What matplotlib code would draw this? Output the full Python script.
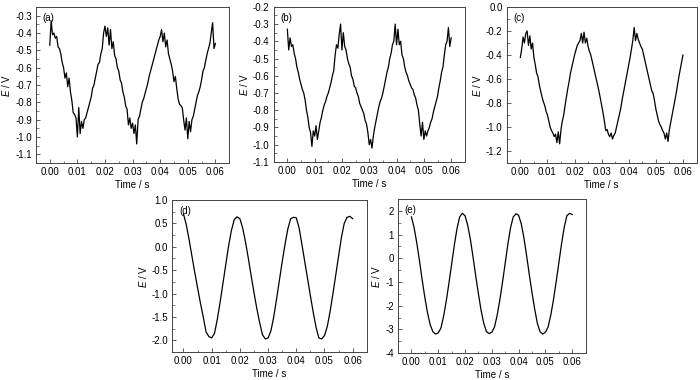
import matplotlib.pyplot as plt
import numpy as np
from matplotlib.ticker import MultipleLocator

plt.rcParams['font.family'] = ['Liberation Sans', 'DejaVu Sans']
plt.rcParams['mathtext.fontset'] = 'custom'
plt.rcParams['mathtext.it'] = 'Liberation Sans:italic'
plt.rcParams['mathtext.rm'] = 'Liberation Sans'
plt.rcParams['axes.unicode_minus'] = False

# time bases
t_fine = np.arange(121) * 0.0005   # panels a-c
t_coarse = np.arange(61) * 0.001   # panels d-e

# potential readings (V)
e_a = [-0.47, -0.33, -0.41, -0.40, -0.43, -0.42, -0.48, -0.49, -0.52, -0.57,
       -0.60, -0.66, -0.63, -0.71, -0.66, -0.74, -0.79, -0.86, -0.87, -0.89,
       -1.00, -0.83, -0.98, -0.91, -0.95, -0.90, -0.89, -0.86, -0.83, -0.80,
       -0.77, -0.72, -0.70, -0.66, -0.62, -0.58, -0.57, -0.52, -0.49, -0.40,
       -0.36, -0.42, -0.37, -0.47, -0.38, -0.49, -0.45, -0.53, -0.55, -0.60,
       -0.62, -0.67, -0.69, -0.74, -0.77, -0.82, -0.84, -0.93, -0.89, -0.95,
       -0.92, -0.98, -0.93, -1.04, -0.90, -0.88, -0.84, -0.80, -0.78, -0.75,
       -0.72, -0.69, -0.65, -0.62, -0.59, -0.56, -0.53, -0.50, -0.47, -0.44,
       -0.42, -0.38, -0.45, -0.40, -0.48, -0.44, -0.52, -0.55, -0.58, -0.62,
       -0.68, -0.65, -0.72, -0.78, -0.81, -0.82, -0.83, -0.90, -0.96, -0.89,
       -1.01, -0.91, -0.97, -0.90, -0.88, -0.84, -0.80, -0.76, -0.74, -0.71,
       -0.67, -0.62, -0.60, -0.56, -0.52, -0.49, -0.46, -0.40, -0.34, -0.49,
       -0.46]

e_b = [-0.33, -0.45, -0.38, -0.43, -0.42, -0.47, -0.50, -0.55, -0.58, -0.62,
       -0.65, -0.68, -0.70, -0.74, -0.80, -0.84, -0.90, -0.93, -1.01, -0.92,
       -0.95, -0.89, -0.97, -0.92, -0.87, -0.84, -0.80, -0.77, -0.75, -0.72,
       -0.70, -0.67, -0.64, -0.60, -0.57, -0.48, -0.42, -0.44, -0.36, -0.30,
       -0.45, -0.35, -0.43, -0.45, -0.50, -0.53, -0.55, -0.60, -0.62, -0.66,
       -0.67, -0.70, -0.72, -0.76, -0.78, -0.80, -0.82, -0.86, -0.88, -0.93,
       -1.00, -0.97, -1.02, -0.95, -0.90, -0.86, -0.82, -0.78, -0.75, -0.73,
       -0.70, -0.66, -0.62, -0.58, -0.55, -0.50, -0.47, -0.42, -0.40, -0.30,
       -0.42, -0.33, -0.42, -0.40, -0.48, -0.50, -0.55, -0.58, -0.60, -0.63,
       -0.65, -0.67, -0.68, -0.71, -0.73, -0.77, -0.80, -0.88, -0.95, -0.87,
       -0.97, -0.92, -0.95, -0.92, -0.90, -0.87, -0.85, -0.81, -0.78, -0.75,
       -0.72, -0.67, -0.63, -0.58, -0.55, -0.48, -0.42, -0.40, -0.32, -0.43,
       -0.38]

e_c = [-0.42, -0.35, -0.25, -0.30, -0.22, -0.20, -0.32, -0.24, -0.35, -0.30,
       -0.42, -0.48, -0.55, -0.58, -0.65, -0.70, -0.75, -0.79, -0.82, -0.87,
       -0.90, -0.95, -1.00, -1.03, -1.05, -1.08, -1.06, -1.13, -1.04, -1.14,
       -1.02, -0.95, -0.90, -0.82, -0.75, -0.68, -0.62, -0.55, -0.50, -0.45,
       -0.40, -0.36, -0.32, -0.30, -0.28, -0.22, -0.30, -0.21, -0.30, -0.26,
       -0.33, -0.37, -0.40, -0.45, -0.50, -0.55, -0.60, -0.65, -0.70, -0.76,
       -0.82, -0.88, -0.95, -1.03, -1.02, -1.06, -1.08, -1.05, -1.10, -1.07,
       -1.05, -1.00, -0.95, -0.90, -0.85, -0.78, -0.72, -0.66, -0.60, -0.54,
       -0.48, -0.42, -0.35, -0.28, -0.17, -0.28, -0.22, -0.27, -0.30, -0.33,
       -0.35, -0.40, -0.45, -0.50, -0.55, -0.60, -0.65, -0.70, -0.72, -0.78,
       -0.85, -0.90, -0.95, -0.98, -1.00, -1.03, -1.05, -1.10, -1.05, -1.12,
       -1.02, -0.96, -0.90, -0.84, -0.78, -0.72, -0.65, -0.58, -0.52, -0.46,
       -0.40]

e_d = [0.70, 0.47, 0.15, -0.20, -0.55, -0.88, -1.20, -1.50, -1.82, -1.92,
       -1.95, -1.85, -1.55, -1.18, -0.78, -0.38, 0.02, 0.35, 0.58, 0.64,
       0.60, 0.40, 0.10, -0.25, -0.62, -0.98, -1.32, -1.62, -1.88, -1.97,
       -1.95, -1.80, -1.50, -1.12, -0.72, -0.32, 0.05, 0.38, 0.60, 0.63,
       0.62, 0.40, 0.05, -0.32, -0.68, -1.05, -1.40, -1.72, -1.95, -1.97,
       -1.90, -1.70, -1.38, -1.00, -0.60, -0.20, 0.20, 0.50, 0.63, 0.65,
       0.60]

e_e = [1.75, 1.30, 0.65, -0.10, -0.90, -1.65, -2.30, -2.80, -3.10, -3.20,
       -3.15, -2.95, -2.45, -1.80, -1.05, -0.25, 0.55, 1.25, 1.75, 1.90,
       1.80, 1.40, 0.80, 0.05, -0.75, -1.50, -2.20, -2.75, -3.10, -3.18,
       -3.12, -2.90, -2.40, -1.75, -1.00, -0.20, 0.60, 1.30, 1.75, 1.88,
       1.82, 1.45, 0.85, 0.10, -0.70, -1.45, -2.15, -2.75, -3.10, -3.20,
       -3.12, -2.90, -2.40, -1.75, -1.00, -0.20, 0.60, 1.30, 1.80, 1.90,
       1.85]

panels = [
    # label, t, E, axes rect, xlim, ylim, y major, y minor
    ('(a)', t_fine, e_a, [0.0514, 0.571, 0.276, 0.4105], (-0.005, 0.065), (-1.15, -0.25), 0.1, 0.05),
    ('(b)', t_fine, e_b, [0.391, 0.574, 0.273, 0.408], (-0.005, 0.065), (-1.1, -0.2), 0.1, 0.05),
    ('(c)', t_fine, e_c, [0.724, 0.571, 0.271, 0.4105], (-0.005, 0.065), (-1.3, 0.0), 0.2, 0.1),
    ('(d)', t_coarse, e_d, [0.246, 0.0737, 0.278, 0.400], (-0.004, 0.065), (-2.25, 1.0), 0.5, 0.25),
    ('(e)', t_coarse, e_e, [0.5686, 0.071, 0.268, 0.405], (-0.005, 0.065), (-4.0, 2.5), 1.0, 0.5),
]

fig = plt.figure(figsize=(7, 3.8), dpi=100)

for label, t, e, rect, xl, yl, ymaj, ymin in panels:
    ax = fig.add_axes(rect)
    ax.plot(t, e, color='black', linewidth=0.9)
    ax.set_xlim(xl)
    ax.set_ylim(yl)
    ax.xaxis.set_major_locator(MultipleLocator(0.01))
    ax.xaxis.set_minor_locator(MultipleLocator(0.005))
    ax.yaxis.set_major_locator(MultipleLocator(ymaj))
    ax.yaxis.set_minor_locator(MultipleLocator(ymin))
    ax.xaxis.set_major_formatter(plt.FormatStrFormatter('%.2f'))
    ax.tick_params(which='both', direction='in', top=False, right=False,
                   labelsize=7, color='#444444', pad=3)
    ax.tick_params(which='major', length=3, width=0.6)
    ax.tick_params(which='minor', length=1.8, width=0.5)
    for s in ax.spines.values():
        s.set_color('#444444')
        s.set_linewidth(0.7)
    ax.set_xlabel('Time / s', fontsize=7, labelpad=2)
    ax.set_ylabel('$E$ / V', fontsize=7, labelpad=2)
    ax.text(0.035, 0.96, label, transform=ax.transAxes, fontsize=7, va='top', ha='left')

fig.savefig('out.png', dpi=100)
